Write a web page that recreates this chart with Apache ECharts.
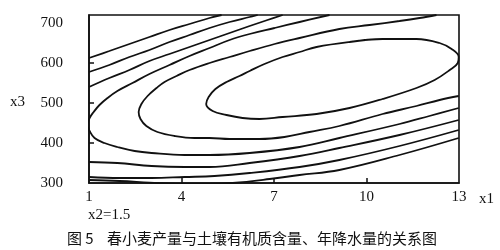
<!DOCTYPE html>
<html>
<head>
<meta charset="utf-8">
<script src="https://cdn.jsdelivr.net/npm/echarts@6/dist/echarts.min.js"></script>
<style>
html,body{margin:0;padding:0;background:#fff;}
#chart{width:500px;height:250px;}
</style>
</head>
<body>
<div id="chart"></div>
<script>
// Tick labels
const x1Ticks = [1, 4, 7, 10, 13];
const x3Ticks = [300, 400, 500, 600, 700];

// Contour lines, as [x1, x3] points
const contour1 = [[9.45,652.5],[10.52,660],[11.62,660],[12.37,650],[12.76,635],[12.99,615],[12.96,600],[12.70,582.5],[12.21,557.5],[11.62,537.5],[10.52,510],[9.45,487.5],[8.38,472.5],[7.28,465],[6.53,460],[5.98,462.5],[5.46,470],[5.01,480],[4.80,497.5],[4.88,515],[5.10,535],[5.46,552.5],[5.88,567.5],[6.21,580],[6.69,597.5],[7.28,615],[7.83,627.5],[8.38,640],[9.45,652.5],[10.52,660],[11.62,660]];
const contour2 = [[12.27,720],[11.72,712.5],[11.07,705],[10.10,695],[9.12,685],[7.83,662.5],[7.02,647.5],[6.21,630],[5.56,615],[4.91,600],[4.26,582.5],[3.84,567.5],[3.45,552.5],[3.19,537.5],[2.90,517.5],[2.70,497.5],[2.61,477.5],[2.67,460],[2.86,442.5],[3.22,427.5],[3.77,417.5],[4.42,412.5],[4.91,412.5],[5.56,410],[6.53,410],[7.34,415],[8.15,427.5],[9.12,442.5],[10.52,472.5],[11.62,492.5],[12.37,507.5],[12.99,517.5]];
const contour3 = [[8.80,720],[7.83,702.5],[7.02,687.5],[6.21,672.5],[5.56,657.5],[4.91,637.5],[4.26,617.5],[3.61,595],[2.96,572.5],[2.41,550],[1.92,530],[1.60,512.5],[1.34,495],[1.15,477.5],[1.02,462.5],[0.95,445],[1.02,430],[1.18,412.5],[1.50,400],[1.92,390],[2.48,380],[3.03,375],[4.10,370],[4.91,370],[6.21,375],[7.83,390],[9.12,412.5],[11.07,447.5],[12.04,467.5],[12.99,487.5]];
const contour4Upper = [[1.0,540],[1.66,562.5],[2.31,582.5],[2.96,605],[3.61,622.5],[4.26,640],[4.91,657.5],[5.56,675],[6.21,692.5],[6.79,707.5],[7.28,720]];
const contour4Lower = [[1.0,352.5],[1.92,350],[3.03,342.5],[4.10,340],[4.91,340],[6.21,350],[7.83,367.5],[9.12,387.5],[11.07,420],[12.99,457.5]];
const contour5Upper = [[1.0,577.5],[1.66,595],[2.31,615],[2.96,632.5],[3.61,652.5],[4.26,670],[4.91,687.5],[5.56,702.5],[6.21,715],[6.47,720]];
const contour5Lower = [[1.0,315],[1.99,312.5],[3.03,312.5],[4.10,315],[5.07,317.5],[6.21,325],[7.83,340],[9.12,357.5],[11.07,392.5],[12.99,432.5]];
const contour6Upper = [[1.0,612.5],[1.66,630],[2.31,647.5],[2.96,665],[3.61,682.5],[4.26,697.5],[4.91,712.5],[5.30,720]];
const contour6Lower = [[1.0,307.5],[1.99,305],[2.96,301],[3.94,297.5],[4.91,297.5],[5.66,300],[6.86,310],[7.83,320],[9.12,332.5],[11.07,370],[12.99,412.5]];

const contours = [contour1, contour2, contour3, contour4Upper, contour4Lower, contour5Upper, contour5Lower, contour6Upper, contour6Lower];

const serif = '"Liberation Serif","Times New Roman",serif';
const chart = echarts.init(document.getElementById('chart'), null, {renderer: 'canvas'});
chart.setOption({
  backgroundColor: '#fff',
  animation: false,
  grid: {left: 89, right: 41, top: 15, bottom: 67, show: true, borderColor: '#111', borderWidth: 1.6, backgroundColor: 'transparent'},
  xAxis: {
    type: 'value', min: 1, max: 13,
    axisLine: {show: true, lineStyle: {color: '#111', width: 1.6}},
    axisTick: {show: true, inside: true, length: 5, customValues: [4, 7, 10], lineStyle: {color: '#111', width: 1.5}},
    axisLabel: {customValues: x1Ticks, color: '#111', fontFamily: serif, fontSize: 15, margin: 7},
    splitLine: {show: false}
  },
  yAxis: {
    type: 'value', min: 300, max: 720,
    axisLine: {show: true, lineStyle: {color: '#111', width: 1.6}},
    axisTick: {show: true, inside: true, length: 5, customValues: [400, 500, 600], lineStyle: {color: '#111', width: 1.5}},
    axisLabel: {customValues: x3Ticks, color: '#111', fontFamily: serif, fontSize: 15, margin: 26},
    splitLine: {show: false}
  },
  series: contours.map(c => ({
    type: 'line', data: c, smooth: 0.4, showSymbol: false, symbol: 'none', clip: true,
    lineStyle: {color: '#111', width: 1.8}
  })),
  graphic: [
    {type: 'text', left: 10, top: 95, style: {text: 'x3', font: '15px ' + serif, fill: '#111'}},
    {type: 'text', left: 479, top: 192, style: {text: 'x1', font: '15px ' + serif, fill: '#111'}},
    {type: 'text', left: 88, top: 208, style: {text: 'x2=1.5', font: '15px ' + serif, fill: '#111'}},
    {type: 'text', left: 67, top: 231, style: {text: '图 5', font: '15px "Noto Sans CJK SC", sans-serif', fill: '#111'}},
    {type: 'text', left: 107, top: 231, style: {text: '春小麦产量与土壤有机质含量、年降水量的关系图', font: '15px "Noto Sans CJK SC", sans-serif', fill: '#111'}}
  ]
});
</script>
</body>
</html>
